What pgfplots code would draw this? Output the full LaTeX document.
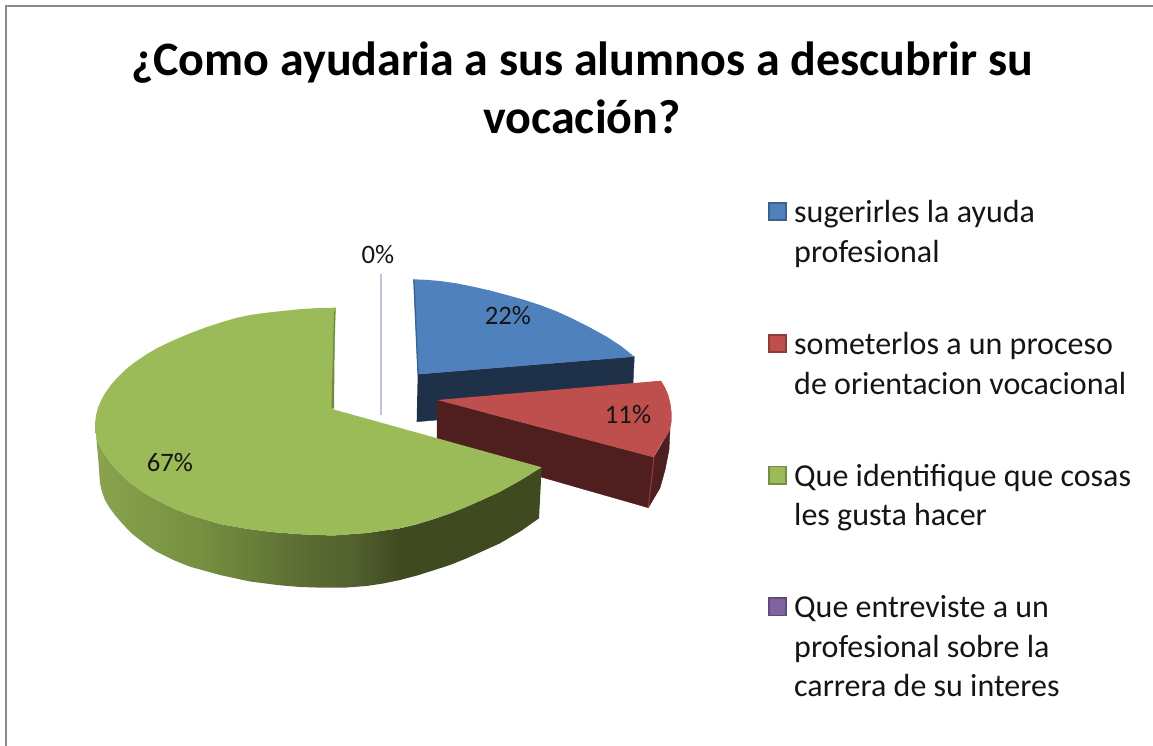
\documentclass[border=0pt]{standalone}
\usepackage{pgfplots}
\pgfplotsset{compat=1.18}
\usepackage{fontspec}
\setmainfont{Carlito}
\definecolor{gtop}{HTML}{9BBB59}
\definecolor{btop}{HTML}{4F81BD}
\definecolor{rtop}{HTML}{BE4F4C}
\definecolor{ptop}{HTML}{8064A2}
\definecolor{bside}{HTML}{1F3149}
\definecolor{rside}{HTML}{4F1E1E}
\definecolor{gedge}{HTML}{71893F}
\definecolor{frameg}{HTML}{8C8C8C}
\definecolor{zeroline}{HTML}{C6C0D4}
\definecolor{txt}{HTML}{151515}
\pgfdeclarehorizontalshading{greenside}{100bp}{
  rgb(0bp)=(0.54,0.64,0.31);
  rgb(25bp)=(0.54,0.64,0.31);
  rgb(37bp)=(0.46,0.56,0.25);
  rgb(48bp)=(0.36,0.43,0.20);
  rgb(54bp)=(0.32,0.38,0.18);
  rgb(59bp)=(0.25,0.29,0.13);
  rgb(75bp)=(0.25,0.29,0.13);
  rgb(100bp)=(0.25,0.29,0.13)}
\begin{document}
\begin{tikzpicture}
\useasboundingbox (0,0) rectangle (864.75pt,559.5pt);
\begin{axis}[
  at={(0,0)},anchor=south west,
  scale only axis,width=864.75pt,height=559.5pt,
  xmin=0,xmax=1153,ymin=0,ymax=746,y dir=reverse,
  axis lines=none,ticks=none,clip=false,
  title={\textbf{¿Como ayudaria a sus alumnos a descubrir su}\\\textbf{vocación?}},
  title style={at={(axis cs:582,96)},anchor=center,align=center,
    font=\fontsize{36}{43}\selectfont,text=black,inner sep=0pt},
  legend style={at={(axis cs:768,198)},anchor=north west,draw=none,fill=none,
    font=\fontsize{24}{29.6}\selectfont,text=txt,inner sep=0pt,outer sep=0pt,
    row sep=76.65pt},
  legend cell align=left,
  legend image code/.code={\draw[#1,line width=1.3pt] (0.6pt,-5.6pt) rectangle (13.6pt,7.4pt);\path (17.4pt,0pt);},
]
% frame
\addplot[forget plot,frameg,line width=1.6pt,no marks] coordinates {(6,746)(6,6)(1153,6)};
% 0% leader
\addplot[forget plot,zeroline,line width=1pt,no marks] coordinates {(381,274)(381,415)};
% blue slice
\addplot[forget plot,bside,fill=bside,line width=0.3pt,no marks] coordinates {(417.7,374.3)(634.3,356.7)(632.7,390)(436.7,420)(416.7,421.7)};
\addplot[forget plot,btop,fill=btop,draw=none,no marks] coordinates {(413.3,279.3)(426,279.8)(440,281)(456,283.3)(473.3,286.7)(490,290.5)(506.7,295)(523,299.5)(540,305)(557,311.5)(573.3,319)(590,327.5)(606.7,336.7)(621,346)(634.3,356.7)(417.7,374.3)};
\addplot[forget plot,fill=btop!75!black,draw=none,no marks] coordinates {(413.3,279.3)(414.6,279.3)(418.7,374.2)(417.4,374.4)};
% red slice
\addplot[forget plot,rside,fill=rside,line width=0.3pt,no marks] coordinates {(437,400)(654,457.3)(670,430)(669,450)(665,470)(660,488)(648.3,507.7)(540,476.7)(436.7,445)};
\addplot[forget plot,rtop!60!rside,line width=0.8pt,no marks] coordinates {(654,457.3)(648.3,507.7)};
\addplot[forget plot,rtop,fill=rtop,draw=none,no marks] coordinates {(437.3,400)(661,380.7)(665,387.5)(668.3,395)(670.5,404)(671.7,413.3)(671.5,422)(670,430)(666,437)(661.7,443)(657.5,450)(654,457.3)};
% green slice
\addplot[forget plot,shade,shading=greenside,draw=none,no marks] coordinates {(95,423.3)(95.5,432)(98.3,443.3)(103.5,452.5)(110,461.7)(116,469.5)(123.3,476.7)(131,483.5)(140,490)(148,495.2)(156.7,500)(173.3,508.3)(190,515)(220,524)(245,528.5)(271.4,532)(300,534.2)(333,535.5)(366.7,533)(400,528.3)(417,524.2)(433,519.3)(450,513.5)(466.7,506.7)(483,499.5)(500,491.7)(521,480)(541.7,467.3)(539,518.3)(521,531)(500,543.3)(483,551)(466.7,558.3)(450,565)(433,570.5)(417,575.5)(400,580)(383,583.5)(366.7,586)(346.7,587.5)(320,587.6)(300,587)(280,585.3)(250,581.5)(220,575)(190,566.7)(173.3,560)(156.7,551.7)(148,546)(140,540)(133,534.5)(126.7,528.3)(120,521)(115,515)(109,507)(105,500)(102,492)(100,483.3)(98.3,460)};
\addplot[forget plot,gtop,fill=gtop,draw=none,no marks] coordinates {(336,307.7)(320,307.9)(300,309.2)(280,311.2)(265,312.9)(250,315)(236,318)(223.3,321.7)(206,327.3)(190,333.3)(173,340.5)(156.7,348.3)(145,355.3)(133.3,363.3)(124.5,370.5)(116.7,378.3)(110.5,385.5)(105,393.3)(101.3,400)(98.3,406.7)(96.2,414.5)(95,423.3)(95.5,432)(98.3,443.3)(103.5,452.5)(110,461.7)(116,469.5)(123.3,476.7)(131,483.5)(140,490)(148,495.2)(156.7,500)(173.3,508.3)(190,515)(220,524)(245,528.5)(271.4,532)(300,534.2)(333,535.5)(366.7,533)(400,528.3)(417,524.2)(433,519.3)(450,513.5)(466.7,506.7)(483,499.5)(500,491.7)(521,480)(541.7,467.3)(332,409)};
\addplot[forget plot,fill=gedge,draw=none,no marks] coordinates {(336,307.7)(335,310)(334,408.5)(331.5,408.5)(334,312)};
% legend
\addlegendimage{fill=btop,draw=btop!75!black}
\addlegendentry{\parbox[t]{290pt}{sugerirles la ayuda\\profesional}}
\addlegendimage{fill=rtop,draw=rtop!75!black}
\addlegendentry{\parbox[t]{290pt}{someterlos a un proceso\\de orientacion vocacional}}
\addlegendimage{fill=gtop,draw=gtop!75!black}
\addlegendentry{\parbox[t]{290pt}{Que identifique que cosas\\les gusta hacer}}
\addlegendimage{fill=ptop,draw=ptop!75!black}
\addlegendentry{\parbox[t]{290pt}{Que entreviste a un\\profesional sobre la\\carrera de su interes}}
% data labels
\node[font=\fontsize{20}{24}\selectfont,text=txt] at (axis cs:378,255) {0\%};
\node[font=\fontsize{20}{24}\selectfont,text=txt] at (axis cs:508,316) {22\%};
\node[font=\fontsize{20}{24}\selectfont,text=txt] at (axis cs:628,415) {11\%};
\node[font=\fontsize{20}{24}\selectfont,text=txt] at (axis cs:170,463) {67\%};
\end{axis}
\end{tikzpicture}
\end{document}
